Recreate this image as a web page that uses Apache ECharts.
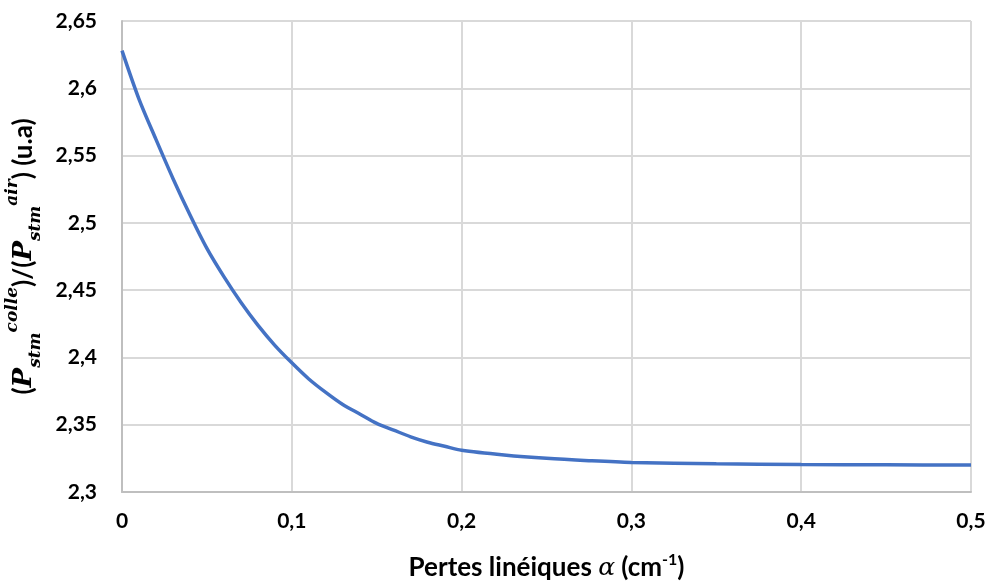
<!DOCTYPE html>
<html>
<head>
<meta charset="utf-8">
<script src="https://cdn.jsdelivr.net/npm/echarts@6/dist/echarts.min.js"></script>
<style>
html,body{margin:0;padding:0;background:#fff;}
#chart{width:992px;height:586px;}
</style>
</head>
<body>
<div id="chart"></div>
<script>
// Data
const alphaValues = [0, 0.01, 0.02, 0.03, 0.04, 0.05, 0.06, 0.07, 0.08, 0.09, 0.1, 0.11, 0.12, 0.13, 0.14, 0.15, 0.16, 0.17, 0.18, 0.19, 0.2, 0.225, 0.25, 0.275, 0.3, 0.35, 0.4, 0.45, 0.5];
const ratioValues = [2.628, 2.592, 2.562, 2.533, 2.506, 2.481, 2.460, 2.441, 2.424, 2.409, 2.396, 2.384, 2.374, 2.365, 2.358, 2.351, 2.346, 2.341, 2.337, 2.334, 2.331, 2.3275, 2.325, 2.3233, 2.322, 2.321, 2.3205, 2.3202, 2.320];
const xTicks = [0, 0.1, 0.2, 0.3, 0.4, 0.5];
const yTicks = [2.3, 2.35, 2.4, 2.45, 2.5, 2.55, 2.6, 2.65];

const fmt = v => String(Math.round(v * 100) / 100).replace('.', ',');
const FONT = 'Lato';

const chart = echarts.init(document.getElementById('chart'));
chart.setOption({
  animation: false,
  backgroundColor: '#fff',
  grid: { left: 122, right: 21, top: 21, bottom: 94, containLabel: false, outerBoundsMode: 'none' },
  xAxis: {
    type: 'value',
    min: xTicks[0], max: xTicks[xTicks.length - 1], interval: 0.1,
    axisLine: { show: true, lineStyle: { color: '#bfbfbf', width: 2 } },
    axisTick: { show: false },
    splitLine: { show: true, lineStyle: { color: '#d9d9d9', width: 2 } },
    axisLabel: { formatter: fmt, color: '#000', fontFamily: FONT, fontWeight: 'bold', fontSize: 21, margin: 19 },
    name: '{t|Pertes linéiques }{a|α}{t| (cm}{s|-1}{t|)}',
    nameLocation: 'middle',
    nameGap: 60,
    nameTextStyle: {
      rich: {
        t: { fontFamily: FONT, fontWeight: 'bold', fontSize: 26, color: '#000', lineHeight: 32 },
        a: { fontFamily: 'DejaVu Serif', fontStyle: 'italic', fontSize: 25, color: '#000', lineHeight: 32 },
        s: { fontFamily: FONT, fontWeight: 'bold', fontSize: 16, color: '#000', verticalAlign: 'top', lineHeight: 20 }
      }
    }
  },
  yAxis: {
    type: 'value',
    min: 2.3, max: 2.65, interval: 0.05,
    axisLine: { show: true, lineStyle: { color: '#bfbfbf', width: 2 } },
    axisTick: { show: false },
    splitLine: { show: true, lineStyle: { color: '#d9d9d9', width: 2 } },
    axisLabel: { formatter: fmt, color: '#000', fontFamily: FONT, fontWeight: 'bold', fontSize: 21, margin: 25 },
    name: '{t|(}{p|P}{sb|stm}{sp|colle}{t|)/(}{p|P}{sb|stm}{sp|air}{t|) (u.a)}',
    nameLocation: 'middle',
    nameGap: 78,
    nameRotate: 90,
    nameTextStyle: {
      rich: {
        t: { fontFamily: FONT, fontWeight: 'bold', fontSize: 26, color: '#000', lineHeight: 40 },
        p: { fontFamily: 'DejaVu Serif', fontStyle: 'italic', fontWeight: 'bold', fontSize: 26, color: '#000', lineHeight: 40 },
        sb: { fontFamily: 'DejaVu Serif', fontStyle: 'italic', fontWeight: 'bold', fontSize: 17, color: '#000', verticalAlign: 'bottom', lineHeight: 17 },
        sp: { fontFamily: 'DejaVu Serif', fontStyle: 'italic', fontWeight: 'bold', fontSize: 17, color: '#000', verticalAlign: 'top', lineHeight: 17 }
      }
    }
  },
  series: [{
    type: 'line',
    data: alphaValues.map((a, i) => [a, ratioValues[i]]),
    smooth: 0.3,
    showSymbol: false,
    symbol: 'none',
    lineStyle: { color: '#4472C4', width: 3.5 },
    clip: false
  }]
});
</script>
</body>
</html>
